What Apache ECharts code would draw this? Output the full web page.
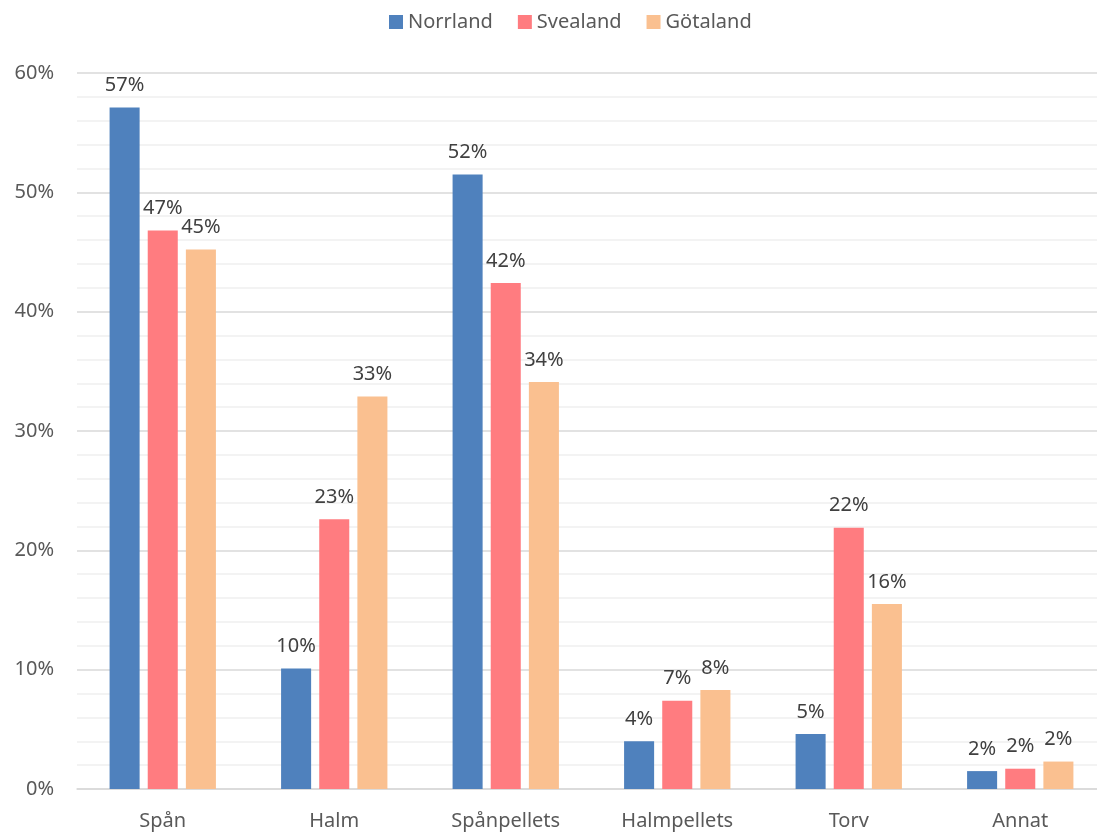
<!DOCTYPE html>
<html><head><meta charset="utf-8">
<script src="https://cdn.jsdelivr.net/npm/echarts@6/dist/echarts.min.js"></script>
<style>html,body{margin:0;padding:0;background:#fff;overflow:hidden}#c{width:1110px;height:832px}</style>
</head><body><div id="c"></div>
<script>
const categories = ['Spån','Halm','Spånpellets','Halmpellets','Torv','Annat'];
const norrland = [57.1, 10.1, 51.5, 4.0, 4.6, 1.5];
const svealand = [46.8, 22.6, 42.4, 7.4, 21.9, 1.7];
const gotaland = [45.2, 32.9, 34.1, 8.3, 15.5, 2.3];
const yTicks = [0, 10, 20, 30, 40, 50, 60];
const font = 'Noto Sans';
const chart = echarts.init(document.getElementById('c'));
const lbl = {show:true, position:'top', distance:12, color:'#404040', fontFamily:font, fontSize:20, formatter:p=>Math.round(p.value)+'%'};
chart.setOption({
  animation:false,
  legend:{top:7, left:384, itemWidth:14, itemHeight:14, itemGap:25, icon:'rect',
    textStyle:{color:'#595959', fontFamily:font, fontSize:20}},
  grid:{left:77, top:73, width:1029, height:716, containLabel:false},
  xAxis:{type:'category', data:categories,
    axisLine:{lineStyle:{color:'#d9d9d9', width:1.5}}, axisTick:{show:false},
    axisLabel:{color:'#595959', fontFamily:font, fontSize:20, margin:22}},
  yAxis:{type:'value', min:yTicks[0], max:yTicks[yTicks.length-1], interval:10,
    axisLine:{show:false}, axisTick:{show:false},
    axisLabel:{color:'#595959', fontFamily:font, fontSize:20, margin:23, formatter:v=>v+'%'},
    splitLine:{lineStyle:{color:'#d9d9d9', width:1.5}},
    minorTick:{show:false, splitNumber:5},
    minorSplitLine:{show:true, lineStyle:{color:'#efefef', width:1.5}}},
  series:[
    {name:'Norrland', type:'bar', data:norrland, itemStyle:{color:'#4f81bd'}, label:lbl, barGap:'27%', barCategoryGap:'38%'},
    {name:'Svealand', type:'bar', data:svealand, itemStyle:{color:'#ff7c80'}, label:lbl},
    {name:'Götaland', type:'bar', data:gotaland, itemStyle:{color:'#fac090'}, label:lbl}
  ]
});
</script></body></html>
